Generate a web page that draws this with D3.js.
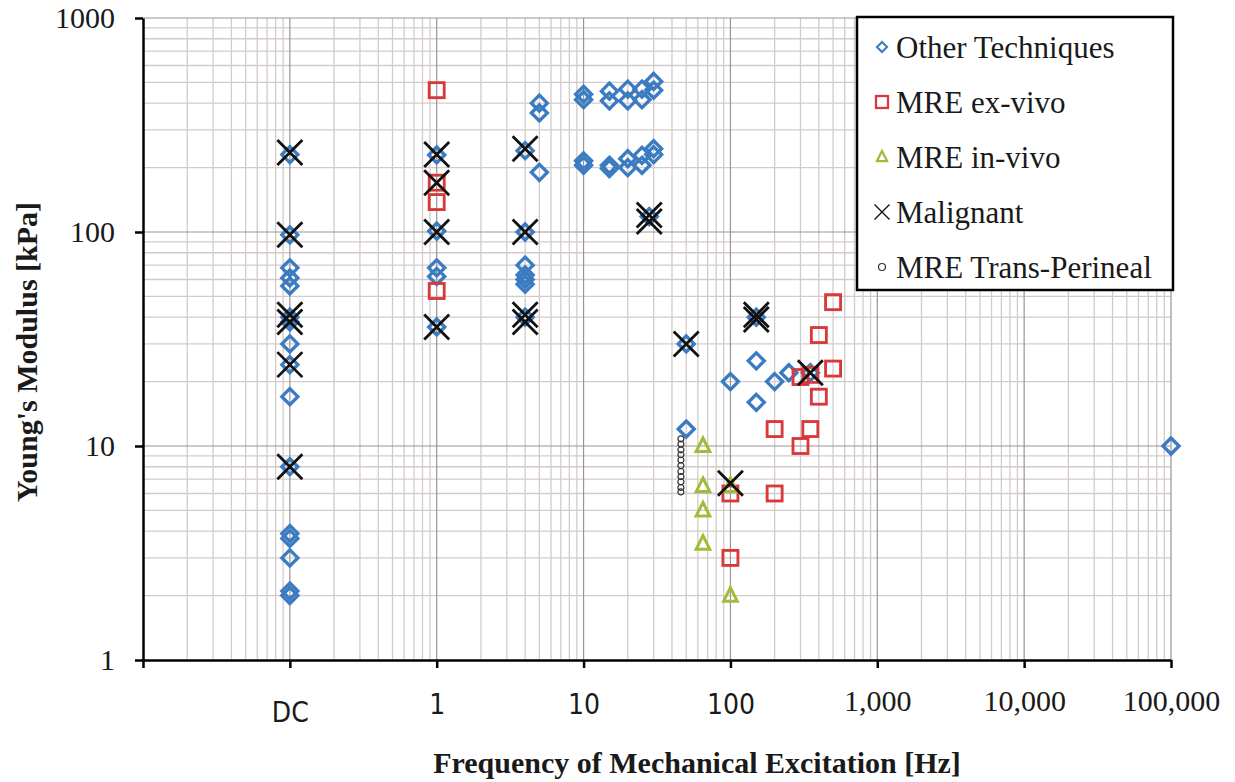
<!DOCTYPE html>
<html lang="en">
<head>
<meta charset="UTF-8">
<script src="https://d3js.org/d3.v7.min.js"></script>
<title>Young's Modulus vs Frequency</title>
<style>
  body { margin: 0; background: #fff; }
</style>
</head>
<body>
<div id="chart"></div>
<script>
const DC = 0.1; // "DC" measurements are placed at 0.1 Hz on the log axis

// [frequency Hz, Young's modulus kPa]
const otherTechniques = [
  [DC, 230], [DC, 97], [DC, 68], [DC, 61], [DC, 56], [DC, 40], [DC, 38], [DC, 30],
  [DC, 24], [DC, 17], [DC, 8], [DC, 3.9], [DC, 3.7], [DC, 3.0], [DC, 2.1], [DC, 2.0],
  [1, 229], [1, 101], [1, 68], [1, 62], [1, 36],
  [4, 240], [4, 100], [4, 70], [4, 63], [4, 60], [4, 57], [4, 40],
  [5, 400], [5, 360], [5, 190],
  [10, 440], [10, 415], [10, 215], [10, 205],
  [15, 455], [15, 410], [15, 205], [15, 198],
  [20, 465], [20, 410], [20, 220], [20, 200],
  [25, 465], [25, 415], [25, 228], [25, 205],
  [30, 505], [30, 460], [30, 245], [30, 230],
  [28, 118], [50, 30], [50, 12], [100, 20],
  [150, 40], [150, 25], [150, 16], [200, 20], [250, 22], [350, 22],
  [100000, 10]
];
const mreExVivo = [
  [1, 460], [1, 170], [1, 138], [1, 53],
  [100, 6], [100, 3], [200, 6], [200, 12], [300, 10], [300, 21],
  [350, 21.5], [350, 12], [400, 33], [400, 17], [500, 47], [500, 23]
];
const mreInVivo = [
  [65, 10], [65, 6.5], [65, 5], [65, 3.5], [100, 2], [100, 6.5]
];
const malignant = [
  [DC, 235], [DC, 97], [DC, 41], [DC, 38], [DC, 24], [DC, 8],
  [1, 230], [1, 170], [1, 100], [1, 36],
  [4, 245], [4, 100], [4, 41], [4, 38],
  [28, 120], [28, 112], [50, 30], [100, 6.7], [150, 41], [150, 39], [350, 22]
];
const mreTransPerineal = [
  [46, 10.8], [46, 10.2], [46, 9.6], [46, 9.1], [46, 8.6], [46, 8.1],
  [46, 7.6], [46, 7.2], [46, 6.8], [46, 6.4], [46, 6.1]
];

const xTickValues = [0.01, 0.1, 1, 10, 100, 1000, 10000, 100000];
const xTickLabels = ["", "DC", "1", "10", "100", "1,000", "10,000", "100,000"];
const yTickValues = [1, 10, 100, 1000];
const yTickLabels = ["1", "10", "100", "1000"];

const seriesNames = ["Other Techniques", "MRE ex-vivo", "MRE in-vivo", "Malignant", "MRE Trans-Perineal"];

const width = 1235;
const height = 782;
const plot = { left: 143, right: 1171, top: 18, bottom: 660 };

const serif = "'Liberation Serif', 'Times New Roman', serif";
const narrow = "'Liberation Sans Narrow', 'DejaVu Sans Condensed', 'Arial Narrow', sans-serif";

const svg = d3.select("#chart")
  .append("svg")
  .attr("width", width)
  .attr("height", height);

const x = d3.scaleLog().domain([0.01, 100000]).range([plot.left, plot.right]);
const y = d3.scaleLog().domain([1, 1000]).range([plot.bottom, plot.top]);

// grid: minor lines first, decades on top
const minorX = [];
for (let e = -2; e < 5; e++) for (let k = 2; k <= 9; k++) minorX.push(k * Math.pow(10, e));
const minorY = [];
for (let e = 0; e < 3; e++) for (let k = 2; k <= 9; k++) minorY.push(k * Math.pow(10, e));

const grid = svg.append("g");
grid.selectAll(".vminor").data(minorX).enter().append("line")
  .attr("x1", d => x(d)).attr("x2", d => x(d))
  .attr("y1", plot.top).attr("y2", plot.bottom)
  .attr("stroke", "#d3cbcb").attr("stroke-width", 1.3);
grid.selectAll(".hminor").data(minorY).enter().append("line")
  .attr("y1", d => y(d)).attr("y2", d => y(d))
  .attr("x1", plot.left).attr("x2", plot.right)
  .attr("stroke", "#d3cbcb").attr("stroke-width", 1.3);
grid.selectAll(".vmajor").data(xTickValues.slice(1)).enter().append("line")
  .attr("x1", d => x(d)).attr("x2", d => x(d))
  .attr("y1", plot.top).attr("y2", plot.bottom)
  .attr("stroke", "#9a9494").attr("stroke-width", 1.2);
grid.selectAll(".hmajor").data(yTickValues.slice(1)).enter().append("line")
  .attr("y1", d => y(d)).attr("y2", d => y(d))
  .attr("x1", plot.left).attr("x2", plot.right)
  .attr("stroke", "#9a9494").attr("stroke-width", 1.2);

// axes
const xAxis = svg.append("g")
  .attr("transform", `translate(0,${plot.bottom})`)
  .call(d3.axisBottom(x).tickValues(xTickValues)
    .tickFormat((d, i) => xTickLabels[i]).tickSize(8).tickSizeOuter(0));
xAxis.select(".domain").attr("stroke", "#000").attr("stroke-width", 2.5);
xAxis.selectAll(".tick line").attr("stroke", "#000").attr("stroke-width", 2.5);
xAxis.selectAll(".tick text")
  .attr("fill", "#1a1a1a")
  .attr("y", (d, i) => i === 1 ? 52 : (i <= 4 ? 44 : 40))
  .attr("dy", "0.35em")
  .style("font-family", (d, i) => i <= 4 ? narrow : serif)
  .style("font-size", (d, i) => i <= 4 ? "28px" : "30px");

const yAxis = svg.append("g")
  .attr("transform", `translate(${plot.left},0)`)
  .call(d3.axisLeft(y).tickValues(yTickValues)
    .tickFormat((d, i) => yTickLabels[i]).tickSize(8).tickSizeOuter(0));
yAxis.select(".domain").attr("stroke", "#000").attr("stroke-width", 2.5);
yAxis.selectAll(".tick line").attr("stroke", "#000").attr("stroke-width", 2.5);
yAxis.selectAll(".tick text")
  .attr("fill", "#1a1a1a")
  .attr("x", -28)
  .style("font-family", serif)
  .style("font-size", "30px");

// axis titles
svg.append("text")
  .attr("x", 697).attr("y", 773)
  .attr("text-anchor", "middle")
  .style("font-family", serif).style("font-size", "30px").style("font-weight", "bold")
  .attr("fill", "#1a1a1a")
  .text("Frequency of Mechanical Excitation [Hz]");
svg.append("text")
  .attr("transform", "translate(37,352) rotate(-90)")
  .attr("text-anchor", "middle")
  .style("font-family", serif).style("font-size", "30px").style("font-weight", "bold")
  .attr("fill", "#1a1a1a")
  .text("Young's Modulus [kPa]");

// marker shapes
const blue = "#3b7bc1", red = "#d8393b", green = "#9fbd3a", black = "#111";
function diamond(g, s) {
  g.append("path").attr("d", `M0,${-s}L${s},0L0,${s}L${-s},0Z`)
    .attr("fill", "none").attr("stroke", blue).attr("stroke-width", s * 0.42);
}
function square(g, s) {
  g.append("rect").attr("x", -s).attr("y", -s).attr("width", 2 * s).attr("height", 2 * s)
    .attr("fill", "none").attr("stroke", red).attr("stroke-width", s * 0.38);
}
function triangle(g, s) {
  g.append("path").attr("d", `M0,${-s}L${s * 0.85},${s * 0.7}L${-s * 0.85},${s * 0.7}Z`)
    .attr("fill", "none").attr("stroke", green).attr("stroke-width", s * 0.38);
}
function cross(g, s) {
  g.append("path").attr("d", `M${-s},${-s}L${s},${s}M${-s},${s}L${s},${-s}`)
    .attr("fill", "none").attr("stroke", black).attr("stroke-width", s < 8 ? 1.4 : 2.8);
}
function ring(g, s) {
  g.append("circle").attr("r", s)
    .attr("fill", "none").attr("stroke", "#333").attr("stroke-width", 1.2);
}

const layers = [
  { data: otherTechniques, draw: diamond, size: 8, legendSize: 5 },
  { data: mreExVivo, draw: square, size: 7.5, legendSize: 6 },
  { data: mreInVivo, draw: triangle, size: 8, legendSize: 6 },
  { data: malignant, draw: cross, size: 12.5, legendSize: 7.5 },
  { data: mreTransPerineal, draw: ring, size: 3, legendSize: 3.5 }
];

layers.forEach(layer => {
  svg.append("g").selectAll("g").data(layer.data).enter().append("g")
    .attr("transform", d => `translate(${x(d[0])},${y(d[1])})`)
    .each(function () { layer.draw(d3.select(this), layer.size); });
});

// legend
const legend = svg.append("g");
legend.append("rect")
  .attr("x", 857).attr("y", 17).attr("width", 316).attr("height", 273)
  .attr("fill", "#fff").attr("stroke", "#000").attr("stroke-width", 2.5);
seriesNames.forEach((name, i) => {
  const cy = 47 + i * 55;
  const m = legend.append("g").attr("transform", `translate(882,${cy})`);
  layers[i].draw(m, layers[i].legendSize);
  legend.append("text")
    .attr("x", 896).attr("y", cy).attr("dy", "0.35em")
    .style("font-family", serif).style("font-size", "31px")
    .attr("fill", "#1a1a1a")
    .text(name);
});
</script>
</body>
</html>
